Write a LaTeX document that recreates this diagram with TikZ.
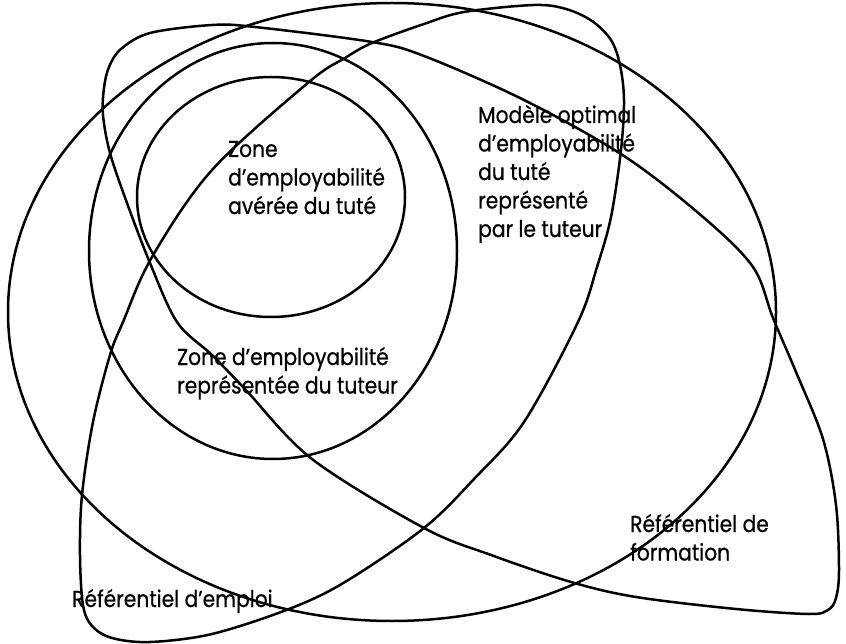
\documentclass[tikz,border=0pt]{standalone}
\usepackage{fontspec}
\setmainfont[FakeStretch=0.88,FakeBold=0.6]{Poppins}
\begin{document}
\begin{tikzpicture}[x=1pt,y=-1pt,
  zone/.style={draw=black, line width=2.5pt},
  lbl/.style={anchor=base west, inner sep=0pt, align=left, font=\fontsize{23}{28.5}\selectfont}]
\useasboundingbox (0,0) rectangle (846,644);
% Référentiel d'emploi (big ellipse)
\draw[zone] (392,312) ellipse [x radius=384pt, y radius=309pt];
% Zone d'employabilité représentée du tuteur
\draw[zone] (273,251) ellipse [x radius=184pt, y radius=208pt];
% Zone d'employabilité avérée du tuté
\draw[zone] (271,197) ellipse [x radius=134pt, y radius=120pt];
% Référentiel de formation (leaf)
\draw[zone] plot[smooth cycle, tension=0.55] coordinates {
 (104,88) (109,67) (121,49) (150,33) (212,25) (255,27) (372,42) (424,56)
 (524,100) (624,156) (703,217) (753,267) (773,318) (796,372) (823,439)
 (836,505) (839,570) (836,598) (828,610) (809,614) (736,609) (636,597)
 (571,582) (491,555) (424,528) (312,459) (245,389) (212,355) (177,322)
 (150,263) (127,203) (110,153) (103,115)};
% Modèle optimal (tilted shape)
\draw[zone] plot[smooth cycle, tension=0.55] coordinates {
 (424,24) (464,12) (534,5) (566,9) (592,21) (611,40) (620,65) (624,100)
 (621,150) (611,217) (597,267) (578,322) (524,422) (474,479) (424,528)
 (345,582) (289,609) (212,634) (150,642) (112,638) (92,626) (83,605)
 (80,555) (82,495) (93,422) (110,355) (123,322) (152,257) (212,170)
 (309,82) (345,58) (372,43)};
% Labels (base anchor = baseline of the last line)
\node[lbl] (avere) at (228,214) {Zone\\d’employabilité\\avérée du tuté};
\node[lbl] (repr) at (177,393.5) {Zone d’employabilité\\représentée du tuteur};
\node[lbl] (modele) at (478,237) {Modèle optimal\\d’employabilité\\du tuté\\représenté\\par le tuteur};
\node[lbl] (form) at (630,560.5) {Référentiel de\\formation};
\node[lbl] (emploi) at (72,607) {Référentiel d’emploi};
\end{tikzpicture}
\end{document}
